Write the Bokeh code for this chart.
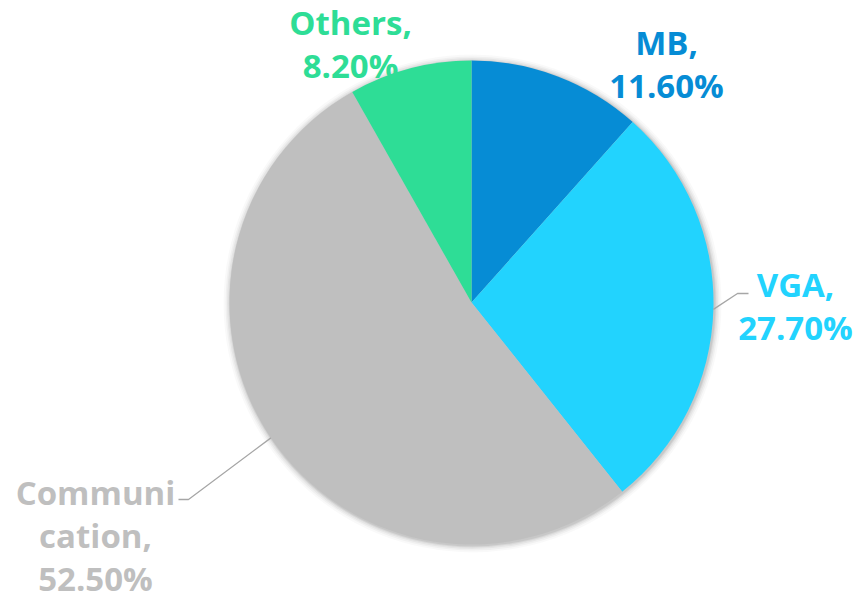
import numpy as np
from bokeh.plotting import figure
from bokeh.models import Range1d
from bokeh.core.properties import value
from bokeh.embed import file_html
from bokeh.resources import INLINE

# ---- data ----
categories = ["MB", "VGA", "Communication", "Others"]
shares = [11.6, 27.7, 52.5, 8.2]
colors = ["#068cd5", "#22d3fe", "#bfbfbf", "#2edd96"]
label_lines = [["MB,", "11.60%"], ["VGA,", "27.70%"], ["Communi", "cation,", "52.50%"], ["Others,", "8.20%"]]

PW, PH = 858, 602
p = figure(width=PW, height=PH, output_backend="svg", toolbar_location=None,
           x_range=Range1d(0, PW), y_range=Range1d(0, PH),
           min_border=0, outline_line_color=None)
p.axis.visible = False
p.grid.visible = False
p.background_fill_color = "white"
p.border_fill_color = "white"

cx, cy, r = 471, PH - 302, 242

# soft shadow halo
for k, a in zip([7, 5, 3.5, 2, 1], [0.025, 0.035, 0.045, 0.055, 0.07]):
    p.circle(x=[cx + 1], y=[cy - 1], radius=r + k, fill_color="black", fill_alpha=a, line_color=None)

frac = np.array(shares) / 100.0
cum = np.concatenate([[0], np.cumsum(frac)])
start = np.pi / 2 - 2 * np.pi * cum[:-1]
end = np.pi / 2 - 2 * np.pi * cum[1:]
p.wedge(x=cx, y=cy, radius=r, start_angle=start, end_angle=end, direction="clock",
        fill_color=colors, line_color=None)

mid = np.pi / 2 - 2 * np.pi * (cum[:-1] + frac / 2)

# label anchor positions (centre of first line), pixel coords
anchors = {0: (666, 42), 1: (795, 284), 2: (95, 492), 3: (350, 22)}
line_h = 43
for i, (ax, ay) in anchors.items():
    for j, t in enumerate(label_lines[i]):
        p.text(x=[ax], y=[PH - (ay + j * line_h)], text=[t], text_align="center", text_baseline="middle",
               text_color=colors[i], text_font=value("Open Sans"), text_font_style="bold",
               text_font_size="33px")

# leader lines
i = 1
sx, sy = cx + r * np.cos(mid[i]), cy + r * np.sin(mid[i])
p.line(x=[sx, 737, 748], y=[sy, PH - 293, PH - 293], line_color="#a6a6a6", line_width=1.3)
i = 2
sx, sy = cx + r * np.cos(mid[i]), cy + r * np.sin(mid[i])
p.line(x=[sx, 188, 178], y=[sy, PH - 499, PH - 499], line_color="#a6a6a6", line_width=1.3)

open("out.html", "w").write(file_html(p, INLINE))
